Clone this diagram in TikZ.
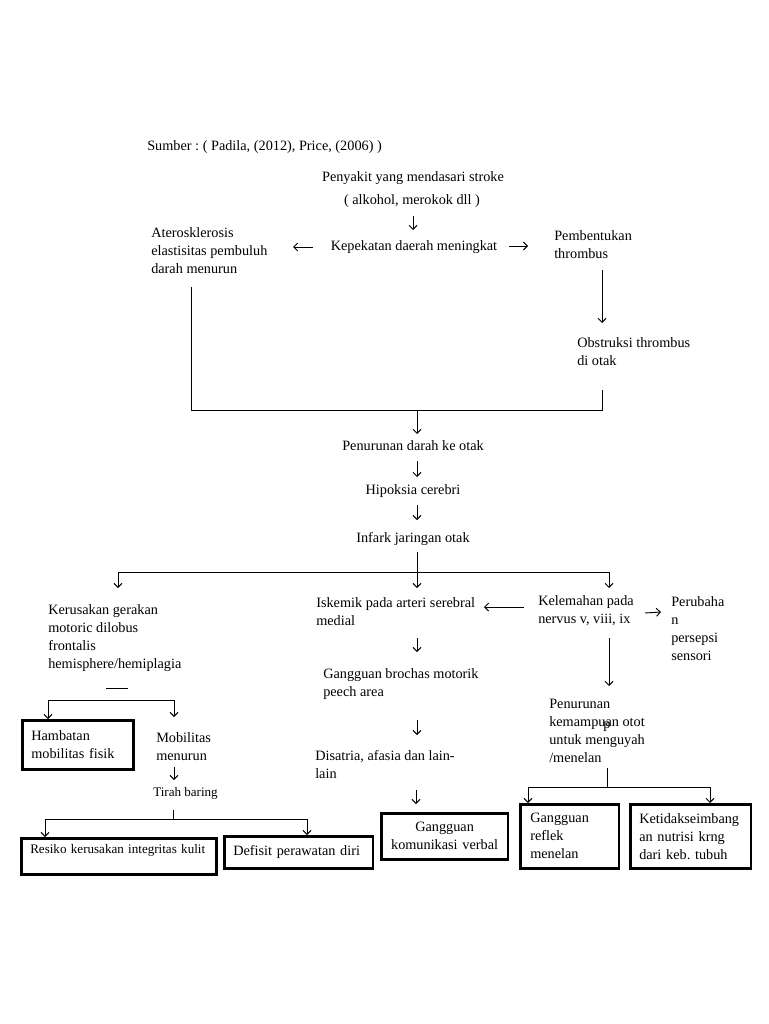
\documentclass[tikz,border=0pt]{standalone}
\usepackage{fontspec}
\setmainfont{Liberation Serif}
\usetikzlibrary{arrows.meta}
\frenchspacing
\begin{document}
\begin{tikzpicture}[x=0.75pt,y=-0.75pt,
  t/.style={inner sep=0pt, align=left, font=\fontsize{10.7}{13.5}\selectfont},
  ts/.style={inner sep=0pt, align=left, font=\fontsize{9.8}{13.5}\selectfont},
  bx/.style={draw, line width=1.9pt, inner ysep=0pt, anchor=north west, font=\fontsize{10.7}{13.5}\selectfont},
  ln/.style={line width=0.7pt},
  arr/.style={line width=0.7pt, -{Straight Barb[length=3pt,width=6pt]}}]
\useasboundingbox (0,0) rectangle (768,1024);
\fill[white] (0,0) rectangle (768,1024);

% ---------- text nodes ----------
\node[t, anchor=west] (src) at (147,147) {Sumber : ( Padila, (2012), Price, (2006) )};
\node[t] (pen) at (413,178) {Penyakit yang mendasari stroke};
\node[t] (alk) at (412,201) {( alkohol, merokok dll )};
\node[t] (kep) at (414,247) {Kepekatan daerah meningkat};
\node[t, anchor=west] (ate) at (151,251) {Aterosklerosis\\elastisitas pembuluh\\darah menurun};
\node[t, anchor=west] (pem) at (554,245) {Pembentukan\\thrombus};
\node[t, anchor=west] (obs) at (577,352) {Obstruksi thrombus\\di otak};
\node[t] (pdo) at (413,446) {Penurunan darah ke otak};
\node[t] (hip) at (413,491) {Hipoksia cerebri};
\node[t] (inf) at (413,539) {Infark jaringan otak};
\node[t, anchor=west] (ker) at (48,638) {Kerusakan gerakan\\motoric dilobus\\frontalis\\hemisphere/hemiplagia};
\node[t, anchor=west] (isk) at (316,612) {Iskemik pada arteri serebral\\medial};
\node[t, anchor=west] (kel) at (538,611) {Kelemahan pada\\nervus v, viii, ix};
\node[t, anchor=west] (per) at (671,629) {Perubaha\\n\\persepsi\\sensori};
\node[t, anchor=west] (gbm) at (323,684) {Gangguan brochas motorik\\peech area};
\node[t, anchor=west] (dis) at (315,765) {Disatria, afasia dan lain-\\lain};
\node[t, anchor=west] (pkm) at (549,731) {Penurunan\\kemampuan otot\\untuk menguyah\\/menelan};
\node[t] (pst) at (607,727) {p};
\node[t, anchor=west] (mob) at (156,747) {Mobilitas\\menurun};
\node[ts, anchor=west] (tir) at (153,793) {Tirah baring};

% ---------- boxes ----------
\node[bx, inner xsep=6.75pt, text width=70pt, minimum height=36.75pt, align=left] (hmb) at (21,719) {Hambatan\\mobilitas fisik};
\node[bx, inner xsep=6.75pt, text width=133pt, minimum height=27pt, align=left, font=\fontsize{9.8}{13.5}\selectfont] (res) at (20,837) {Resiko kerusakan integritas kulit\\[-2pt]\mbox{}};
\node[bx, inner xsep=6.75pt, text width=98pt, minimum height=24pt, align=left] (def) at (223,835) {Defisit perawatan diri};
\node[bx, inner xsep=5pt, text width=85pt, minimum height=34.5pt, align=center] (gkv) at (380,812) {Gangguan\\komunikasi verbal};
\node[bx, inner xsep=7.5pt, text width=59pt, minimum height=48pt, align=left] (grm) at (519,803) {Gangguan\\reflek\\menelan};
\node[bx, inner xsep=6.75pt, text width=77pt, minimum height=48pt, align=left] (ket) at (629,803) {Ketidakseimbang\\an nutrisi krng\\dari keb. tubuh};

% ---------- coordinates ----------
\coordinate (a1s) at (413,216); \coordinate (a1e) at (413,230);
\coordinate (a2s) at (313,247); \coordinate (a2e) at (293,247);
\coordinate (a3s) at (509,246); \coordinate (a3e) at (528,246);
\coordinate (a4s) at (602,270); \coordinate (a4e) at (602,323);
\coordinate (m1) at (191,287); \coordinate (m2) at (191,410);
\coordinate (m3) at (602,410); \coordinate (m4) at (602,390);
\coordinate (mj) at (417,410); \coordinate (a5e) at (417,434);
\coordinate (a6s) at (417,461); \coordinate (a6e) at (417,477);
\coordinate (a7s) at (417,505); \coordinate (a7e) at (417,520);
\coordinate (b0) at (417,552); \coordinate (bj) at (417,572);
\coordinate (bl) at (118,572); \coordinate (br) at (609,572);
\coordinate (bla) at (118,588); \coordinate (bma) at (417,588); \coordinate (bra) at (609,588);
\coordinate (c1s) at (524,607); \coordinate (c1e) at (484,607);
\coordinate (c2s) at (645,613); \coordinate (c2e) at (661,612);
\coordinate (c3s) at (417,638); \coordinate (c3e) at (417,652);
\coordinate (c4s) at (609,638); \coordinate (c4e) at (609,686);
\coordinate (c5s) at (417,720); \coordinate (c5e) at (417,735);
\coordinate (d1) at (106,688); \coordinate (d2) at (128,688);
\coordinate (e1) at (48,700); \coordinate (e2) at (174,700);
\coordinate (e2a) at (174,717);
\coordinate (f1s) at (174,767); \coordinate (f1e) at (174,780);
\coordinate (g0) at (173,810); \coordinate (gj) at (173,819);
\coordinate (gl) at (45,819); \coordinate (gr) at (307,819);
\coordinate (h1s) at (416,790); \coordinate (h1e) at (416,804);
\coordinate (k0) at (607,768); \coordinate (kj) at (607,787);
\coordinate (kl) at (528,787); \coordinate (kr) at (710,787);

% ---------- connectors ----------
\draw[arr] (a1s) -- (a1e);
\draw[arr] (a2s) -- (a2e);
\draw[arr] (a3s) -- (a3e);
\draw[arr] (a4s) -- (a4e);
\draw[ln] (m1) -- (m2) -- (m3) -- (m4);
\draw[arr] (mj) -- (a5e);
\draw[arr] (a6s) -- (a6e);
\draw[arr] (a7s) -- (a7e);
\draw[ln] (b0) -- (bj);
\draw[ln] (bl) -- (br);
\draw[arr] (bl) -- (bla);
\draw[arr] (bj) -- (bma);
\draw[arr] (br) -- (bra);
\draw[arr] (c1s) -- (c1e);
\draw[arr] (c2s) -- (c2e);
\draw[arr] (c3s) -- (c3e);
\draw[arr] (c4s) -- (c4e);
\draw[arr] (c5s) -- (c5e);
\draw[ln] (d1) -- (d2);
\draw[ln] (e1) -- (e2);
\draw[arr] (e1) -- (hmb.north -| e1);
\draw[arr] (e2) -- (e2a);
\draw[arr] (f1s) -- (f1e);
\draw[ln] (g0) -- (gj);
\draw[ln] (gl) -- (gr);
\draw[arr] (gl) -- (res.north -| gl);
\draw[arr] (gr) -- (def.north -| gr);
\draw[arr] (h1s) -- (h1e);
\draw[ln] (k0) -- (kj);
\draw[ln] (kl) -- (kr);
\draw[arr] (kl) -- (grm.north -| kl);
\draw[arr] (kr) -- (ket.north -| kr);
\end{tikzpicture}
\end{document}
